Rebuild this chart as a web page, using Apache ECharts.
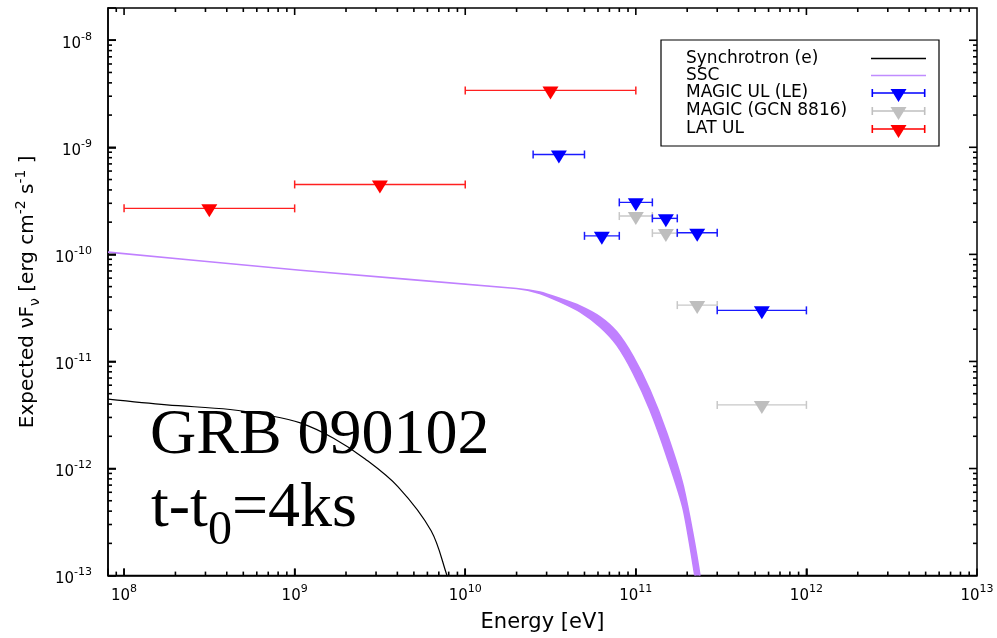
<!DOCTYPE html>
<html>
<head>
<meta charset="utf-8">
<script src="https://cdn.jsdelivr.net/npm/echarts@6/dist/echarts.min.js"></script>
<style>html,body{margin:0;padding:0;background:#fff}#chart{width:997px;height:638px}</style>
</head>
<body>
<div id="chart"></div>
<script>
// ---- axis ranges and ticks ----
const xRange = [8.05e7, 1e13];
const yRange = [1e-13, 2e-8];
const tickAnchor = [1e10, 1e-11];   // inside point used to carry the tick items
const xMajorTicks = [1e8, 1e9, 1e10, 1e11, 1e12];
const yMajorTicks = [1e-12, 1e-11, 1e-10, 1e-9, 1e-8];
const xMinorTicks = [9e7,
  2e8, 3e8, 4e8, 5e8, 6e8, 7e8, 8e8, 9e8,
  2e9, 3e9, 4e9, 5e9, 6e9, 7e9, 8e9, 9e9,
  2e10, 3e10, 4e10, 5e10, 6e10, 7e10, 8e10, 9e10,
  2e11, 3e11, 4e11, 5e11, 6e11, 7e11, 8e11, 9e11,
  2e12, 3e12, 4e12, 5e12, 6e12, 7e12, 8e12, 9e12];
const yMinorTicks = [
  2e-13, 3e-13, 4e-13, 5e-13, 6e-13, 7e-13, 8e-13, 9e-13,
  2e-12, 3e-12, 4e-12, 5e-12, 6e-12, 7e-12, 8e-12, 9e-12,
  2e-11, 3e-11, 4e-11, 5e-11, 6e-11, 7e-11, 8e-11, 9e-11,
  2e-10, 3e-10, 4e-10, 5e-10, 6e-10, 7e-10, 8e-10, 9e-10,
  2e-9, 3e-9, 4e-9, 5e-9, 6e-9, 7e-9, 8e-9, 9e-9];

// ---- Synchrotron (e) model curve ----
const synE = [8.05e7, 1.78e8, 4.18e8, 6.85e8, 1.08e9, 1.69e9, 2.59e9, 4.04e9, 6.31e9, 7.82e9, 8.4e9];
const synF = [4.44e-12, 3.93e-12, 3.56e-12, 3.16e-12, 2.67e-12, 1.92e-12, 1.23e-12, 6.75e-13, 2.62e-13, 1.0e-13, 7.0e-14];

// ---- SSC model band (upper / lower edge) ----
const sscE     = [8.05e7, 1.08e9, 2.0e10, 2.74e10, 3.60e10, 4.71e10, 6.17e10, 7.73e10, 9.66e10, 1.21e11, 1.52e11, 1.90e11, 2.38e11];
const sscUpper = [1.05e-10, 7.1e-11, 4.8e-11, 4.44e-11, 3.87e-11, 3.30e-11, 2.61e-11, 1.89e-11, 1.11e-11, 5.41e-12, 2.14e-12, 6.79e-13, 9.84e-14];
const sscLower = [1.05e-10, 7.1e-11, 4.8e-11, 4.32e-11, 3.60e-11, 2.90e-11, 2.10e-11, 1.42e-11, 7.74e-12, 3.52e-12, 1.29e-12, 4.12e-13, 5.4e-14];

// ---- MAGIC UL (LE) ----
const leLow    = [2.5e10, 8.0e10, 1.25e11, 5.0e10, 1.75e11, 3.0e11];
const leHigh   = [5.0e10, 1.25e11, 1.75e11, 8.0e10, 3.0e11, 1.0e12];
const leCenter = [3.54e10, 1.0e11, 1.50e11, 6.32e10, 2.29e11, 5.48e11];
const leFlux   = [8.57e-10, 3.06e-10, 2.17e-10, 1.49e-10, 1.59e-10, 3.0e-11];

// ---- MAGIC (GCN 8816) ----
const gcnLow    = [8.0e10, 1.25e11, 1.75e11, 3.0e11];
const gcnHigh   = [1.25e11, 1.75e11, 3.0e11, 1.0e12];
const gcnCenter = [1.0e11, 1.50e11, 2.29e11, 5.48e11];
const gcnFlux   = [2.28e-10, 1.58e-10, 3.36e-11, 3.93e-12];

// ---- LAT UL ----
const latLow    = [1e8, 1e9, 1e10];
const latHigh   = [1e9, 1e10, 1e11];
const latCenter = [3.16e8, 3.16e9, 3.16e10];
const latFlux   = [2.69e-10, 4.50e-10, 3.40e-9];

const legendNames = ['Synchrotron (e)', 'SSC', 'MAGIC UL (LE)', 'MAGIC (GCN 8816)', 'LAT UL'];

const SANS = 'DejaVu Sans';
const SERIF = 'Liberation Serif';

function powLabel(v) {
  const e = Math.log10(v);
  const r = Math.round(e);
  if (Math.abs(e - r) > 1e-6) return '';
  return '{b|10}{s|' + r + '}';
}
const powRich = {
  b: {fontFamily: SANS, fontSize: 15, height: 22, lineHeight: 29, verticalAlign: 'bottom', color: '#000'},
  s: {fontFamily: SANS, fontSize: 11, height: 22, lineHeight: 29, verticalAlign: 'top', color: '#000'}
};

function errorBars(name, low, high, center, flux, color, barColor) {
  return {
    type: 'custom', name: name, xAxisIndex: 0, yAxisIndex: 0,
    data: flux.map((f, i) => [center[i], f, low[i], high[i]]),
    itemStyle: {color: color},
    renderItem: function (params, api) {
      const c = api.coord([api.value(0), api.value(1)]);
      const l = api.coord([api.value(2), api.value(1)]);
      const h = api.coord([api.value(3), api.value(1)]);
      const y = c[1];
      const cap = 4, tw = 8;
      return {type: 'group', children: [
        {type: 'line', shape: {x1: l[0], y1: y, x2: h[0], y2: y}, style: {stroke: barColor, lineWidth: 1.4}},
        {type: 'line', shape: {x1: l[0], y1: y - cap, x2: l[0], y2: y + cap}, style: {stroke: barColor, lineWidth: 1.5}},
        {type: 'line', shape: {x1: h[0], y1: y - cap, x2: h[0], y2: y + cap}, style: {stroke: barColor, lineWidth: 1.5}},
        {type: 'polygon', shape: {points: [[c[0] - tw, y - 4], [c[0] + tw, y - 4], [c[0], y + 9]]}, style: {fill: color}}
      ]};
    }
  };
}

// frame tick marks, one series per tick set, positioned through the axis scales
function tickSeries(name, values, vertical, len) {
  return {
    type: 'custom', name: name, xAxisIndex: 0, yAxisIndex: 0,
    itemStyle: {color: '#000'},
    data: values.map(v => vertical ? [v, tickAnchor[1]] : [tickAnchor[0], v]),
    renderItem: function (params, api) {
      if (vertical) {
        const v = api.value(0);
        const b = api.coord([v, yRange[0]]);
        const t = api.coord([v, yRange[1]]);
        return {type: 'group', children: [
          {type: 'line', shape: {x1: b[0], y1: b[1], x2: b[0], y2: b[1] - len}, style: {stroke: '#000', lineWidth: 1.6}},
          {type: 'line', shape: {x1: t[0], y1: t[1], x2: t[0], y2: t[1] + len}, style: {stroke: '#000', lineWidth: 1.6}}
        ]};
      }
      const v = api.value(1);
      const l = api.coord([xRange[0], v]);
      const r = api.coord([xRange[1], v]);
      return {type: 'group', children: [
        {type: 'line', shape: {x1: l[0], y1: l[1], x2: l[0] + len, y2: l[1]}, style: {stroke: '#000', lineWidth: 1.6}},
        {type: 'line', shape: {x1: r[0], y1: r[1], x2: r[0] - len, y2: r[1]}, style: {stroke: '#000', lineWidth: 1.6}}
      ]};
    }
  };
}

const errIcon = 'path://M27,-5L27.01,-5L27,-5Z M0,0L1.6,0L1.6,3.3L52.4,3.3L52.4,0L54,0L54,8L52.4,8L52.4,4.7L1.6,4.7L1.6,8L0,8Z M19,0L35,0L27,13Z';
const lineIcon = 'path://M0,0L54,0L54,1.3L0,1.3Z';

const chart = echarts.init(document.getElementById('chart'), null, {renderer: 'canvas'});
const option = {
  animation: false,
  grid: {left: 108, right: 20, top: 8, bottom: 62, containLabel: false,
         show: true, borderColor: '#000', borderWidth: 1.5, backgroundColor: 'transparent'},
  xAxis: [{
    type: 'log', logBase: 10, min: xRange[0], max: xRange[1], position: 'bottom',
    name: 'Energy [eV]', nameLocation: 'middle', nameGap: 33,
    nameTextStyle: {fontFamily: SANS, fontSize: 21, color: '#000'},
    axisLine: {show: true, lineStyle: {color: '#000', width: 1.5}},
    axisTick: {show: true, inside: true, length: 7, lineStyle: {color: '#000', width: 1.6}},
    axisLabel: {show: true, margin: 2.5, formatter: powLabel, rich: powRich},
    splitLine: {show: false}, minorTick: {show: false}
  }],
  yAxis: [{
    type: 'log', logBase: 10, min: yRange[0], max: yRange[1], position: 'left',
    name: '{n|Expected \u03bdF}{sub|\u03bd}{n| [erg cm}{sup|-2}{n| s}{sup|-1}{n| ]}',
    nameLocation: 'middle', nameGap: 66,
    nameTextStyle: {
      color: '#000',
      rich: {
        n: {fontFamily: SANS, fontSize: 20, lineHeight: 28, color: '#000'},
        sup: {fontFamily: SANS, fontSize: 14, height: 14, lineHeight: 28, verticalAlign: 'top', color: '#000'},
        sub: {fontFamily: SANS, fontSize: 14, height: 14, lineHeight: 28, verticalAlign: 'bottom', color: '#000'}
      }
    },
    axisLine: {show: true, lineStyle: {color: '#000', width: 1.5}},
    axisTick: {show: true, inside: true, length: 8, lineStyle: {color: '#000', width: 1.6}},
    axisLabel: {show: true, margin: 16, formatter: powLabel, rich: powRich},
    splitLine: {show: false}, minorTick: {show: false}
  }],
  legend: {
    orient: 'vertical', left: 661, top: 40, align: 'right',
    padding: [10, 13, 8, 25], itemGap: 0, itemWidth: 55, itemHeight: 18,
    backgroundColor: '#fff', borderColor: '#000', borderWidth: 1.2, borderRadius: 0,
    selectedMode: false,
    itemStyle: {borderWidth: 0},
    formatter: function (n) { return '{t|' + n + '}'; },
    textStyle: {rich: {t: {width: 180, align: 'left', fontFamily: SANS, fontSize: 17, color: '#000'}}},
    data: [
      {name: legendNames[0], icon: lineIcon, itemStyle: {color: '#000', borderWidth: 0}},
      {name: legendNames[1], icon: lineIcon, itemStyle: {color: '#c08cff', borderWidth: 0}},
      {name: legendNames[2], icon: errIcon, itemStyle: {color: '#0000ff', borderWidth: 0}},
      {name: legendNames[3], icon: errIcon, itemStyle: {color: '#c0c0c0', borderWidth: 0}},
      {name: legendNames[4], icon: errIcon, itemStyle: {color: '#ff0000', borderWidth: 0}}
    ]
  },
  graphic: [
    {type: 'text', x: 150, y: 436, z: 100,
     style: {text: 'GRB 090102', fontFamily: SERIF, fontSize: 64, fill: '#000', verticalAlign: 'middle', align: 'left'}},
    {type: 'text', x: 151, y: 509, z: 100,
     style: {text: '{a|t-t}{b|0}{a|=4ks}', verticalAlign: 'middle', align: 'left',
       rich: {
         a: {fontFamily: SERIF, fontSize: 64, height: 64, lineHeight: 64, color: '#000'},
         b: {fontFamily: SERIF, fontSize: 48, height: 20, lineHeight: 64, verticalAlign: 'bottom', color: '#000'}
       }}}
  ],
  series: [
    {
      type: 'custom', name: legendNames[1], xAxisIndex: 0, yAxisIndex: 0, clip: true,
      itemStyle: {color: '#c080ff'},
      data: sscE.map((e, i) => [e, sscUpper[i], sscLower[i]]),
      renderItem: function (params, api) {
        if (params.dataIndex !== 0) return null;
        const pts = [];
        for (let i = 0; i < sscE.length; i++) pts.push(api.coord([sscE[i], sscUpper[i]]));
        for (let i = sscE.length - 1; i >= 0; i--) pts.push(api.coord([sscE[i], sscLower[i]]));
        return {type: 'polygon', shape: {points: pts, smooth: 0.25},
          style: {fill: '#c080ff', stroke: '#c080ff', lineWidth: 1.6, lineJoin: 'round'}};
      }
    },
    {
      type: 'line', name: legendNames[0], xAxisIndex: 0, yAxisIndex: 0,
      data: synE.map((e, i) => [e, synF[i]]),
      showSymbol: false, symbol: 'none', smooth: 0.35, clip: true,
      color: '#000', lineStyle: {color: '#000', width: 1.2}
    },
    errorBars(legendNames[3], gcnLow, gcnHigh, gcnCenter, gcnFlux, '#bebebe', '#c8c8c8'),
    errorBars(legendNames[2], leLow, leHigh, leCenter, leFlux, '#0000ff', '#1a1aff'),
    errorBars(legendNames[4], latLow, latHigh, latCenter, latFlux, '#ff0000', '#ff2020'),
    tickSeries('xmajor', xMajorTicks, true, 7),
    tickSeries('ymajor', yMajorTicks, false, 8),
    tickSeries('xminor', xMinorTicks, true, 4),
    tickSeries('yminor', yMinorTicks, false, 4)
  ]
};
chart.setOption(option);
</script>
</body>
</html>
